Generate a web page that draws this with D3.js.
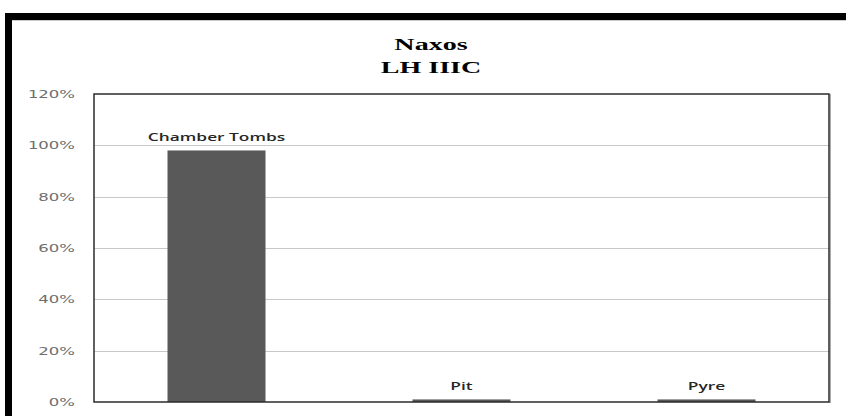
<!DOCTYPE html>
<html><head><meta charset="utf-8">
<script src="https://cdn.jsdelivr.net/npm/d3@7"></script>
<style>body{margin:0;background:#fff;}svg{display:block;}</style>
</head><body>
<svg id="c" width="846" height="416"></svg>
<script>
const categories = ["Chamber Tombs", "Pit", "Pyre"];
const values = [98, 1, 1];
const yTicks = [0, 20, 40, 60, 80, 100, 120];
const titleLines = ["Naxos", "LH IIIC"];

const W = 846, H = 416;
const sx = 1.65; // horizontal stretch of the original image
const m = {left: 94, right: 829, top: 94, bottom: 402};
const svg = d3.select("#c");

// outer frame
svg.append("rect").attr("x", 0).attr("y", 0).attr("width", W).attr("height", H).attr("fill", "#fff");
svg.append("rect").attr("x", 8.5).attr("y", 16.5).attr("width", 900).attr("height", 500)
  .attr("fill", "none").attr("stroke", "#000").attr("stroke-width", 7);
svg.append("line").attr("x1", 12).attr("x2", W).attr("y1", 20.5).attr("y2", 20.5)
  .attr("stroke", "#ccc").attr("stroke-width", 1);

const x = d3.scaleBand().domain(categories).range([m.left, m.right]).paddingInner(0.6).paddingOuter(0.3);
const y = d3.scaleLinear().domain([0, 120]).range([m.bottom, m.top]);

function stretched(sel, anchorX) {
  // apply horizontal scale about anchorX
  return sel.attr("transform", `translate(${anchorX},0) scale(${sx},1) translate(${-anchorX},0)`);
}

// gridlines
svg.append("g").selectAll("line").data(yTicks.filter(t => t > 0 && t < 120)).join("line")
  .attr("x1", m.left).attr("x2", m.right)
  .attr("y1", d => Math.round(y(d)) + 0.5).attr("y2", d => Math.round(y(d)) + 0.5)
  .attr("stroke", "#c8c8c8").attr("stroke-width", 1.2);

// y tick labels
const yl = svg.append("g");
yTicks.forEach(t => {
  const tx = yl.append("text").attr("x", 75).attr("y", y(t) + 4)
    .attr("text-anchor", "end").attr("font-family", "DejaVu Sans, Verdana, sans-serif")
    .attr("font-size", 10).attr("fill", "#6e6e6e").text(t + "%");
  stretched(tx, 75);
});

// bars
svg.append("g").selectAll("rect").data(categories).join("rect")
  .attr("x", d => x(d)).attr("width", x.bandwidth())
  .attr("y", (d, i) => y(values[i])).attr("height", (d, i) => y(0) - y(values[i]))
  .attr("fill", "#595959");

// bar labels
categories.forEach((c, i) => {
  const cx = x(c) + x.bandwidth() / 2;
  const t = svg.append("text").attr("x", cx).attr("y", y(values[i]) - 9)
    .attr("text-anchor", "middle").attr("font-family", "Open Sans, sans-serif")
    .attr("font-weight", 600).attr("font-size", 10.5).attr("fill", "#262626").text(c);
  stretched(t, cx);
});

// plot frame
svg.append("rect").attr("x", m.left).attr("y", m.top).attr("width", m.right - m.left).attr("height", m.bottom - m.top)
  .attr("fill", "none").attr("stroke", "#2b2b2b").attr("stroke-width", 1.5);
svg.append("line").attr("x1", m.right + 1).attr("x2", m.right + 1).attr("y1", m.top).attr("y2", m.bottom + 1)
  .attr("stroke", "#555").attr("stroke-width", 1);

// title
const tcx = 431;
titleLines.forEach((s, i) => {
  const t = svg.append("text").attr("x", tcx).attr("y", 50 + i * 23)
    .attr("text-anchor", "middle").attr("font-family", "Liberation Serif, Times New Roman, serif")
    .attr("font-weight", "bold").attr("font-size", 17).attr("fill", "#000").text(s);
  stretched(t, tcx);
});
</script>
</body></html>
